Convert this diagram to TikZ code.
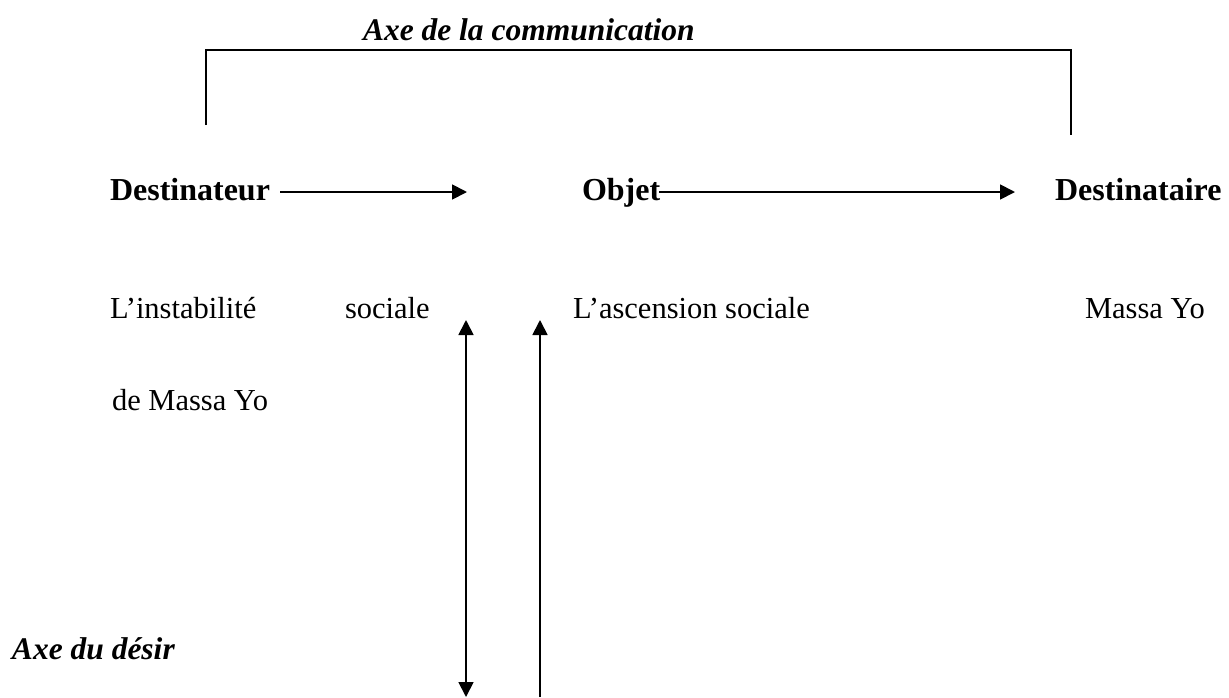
\documentclass[tikz,border=0pt]{standalone}
\usepackage{fontspec}
\setmainfont{Liberation Serif}
\usetikzlibrary{arrows.meta}
\begin{document}
\begin{tikzpicture}[x=1pt,y=-1pt,
  txt/.style={anchor=base west,inner sep=0pt,outer sep=0pt,font=\fontsize{30.5}{37}\selectfont},
  btxt/.style={txt,font=\fontsize{32}{38}\selectfont\bfseries},
  bitxt/.style={txt,font=\fontsize{31.5}{38}\selectfont\bfseries\itshape},
  thin line/.style={line width=1.3pt},
  arr/.style={line width=1.8pt,-{Triangle[length=15pt,width=15pt]}},
  darr/.style={line width=1.8pt,{Triangle[length=15pt,width=15pt]}-{Triangle[length=15pt,width=15pt]}}]
\useasboundingbox (0,0) rectangle (1229,697);
% texts
\node[bitxt] (title) at (363,40) {Axe de la communication};
\node[btxt] (dest) at (110,200) {Destinateur};
\node[btxt] (obj) at (582,200) {Objet};
\node[btxt] (desta) at (1055,200) {Destinataire};
\node[txt] (inst) at (110,318) {L’instabilité};
\node[txt] (soc) at (345,318) {sociale};
\node[txt] (asc) at (573,318) {L’ascension sociale};
\node[txt] (massa) at (1085,318) {Massa Yo};
\node[txt] (demassa) at (112,410) {de Massa Yo};
\node[bitxt] (desir) at (12,659) {Axe du désir};
% coordinates
\coordinate (bl) at (206,125);
\coordinate (tl) at (206,50);
\coordinate (tr) at (1071,50);
\coordinate (br) at (1071,135);
\coordinate (a1s) at (280,192);
\coordinate (a1e) at (467,192);
\coordinate (a2s) at (659,192);
\coordinate (a2e) at (1015,192);
\coordinate (v1t) at (466,320);
\coordinate (v1b) at (466,697);
\coordinate (v2t) at (540,320);
\coordinate (v2b) at (540,697);
% connectors
\draw[thin line] (bl) -- (tl) -- (tr) -- (br);
\draw[arr] (a1s) -- (a1e);
\draw[arr] (a2s) -- (a2e);
\draw[darr] (v1t) -- (v1b);
\draw[arr] (v2b) -- (v2t);
\end{tikzpicture}
\end{document}
